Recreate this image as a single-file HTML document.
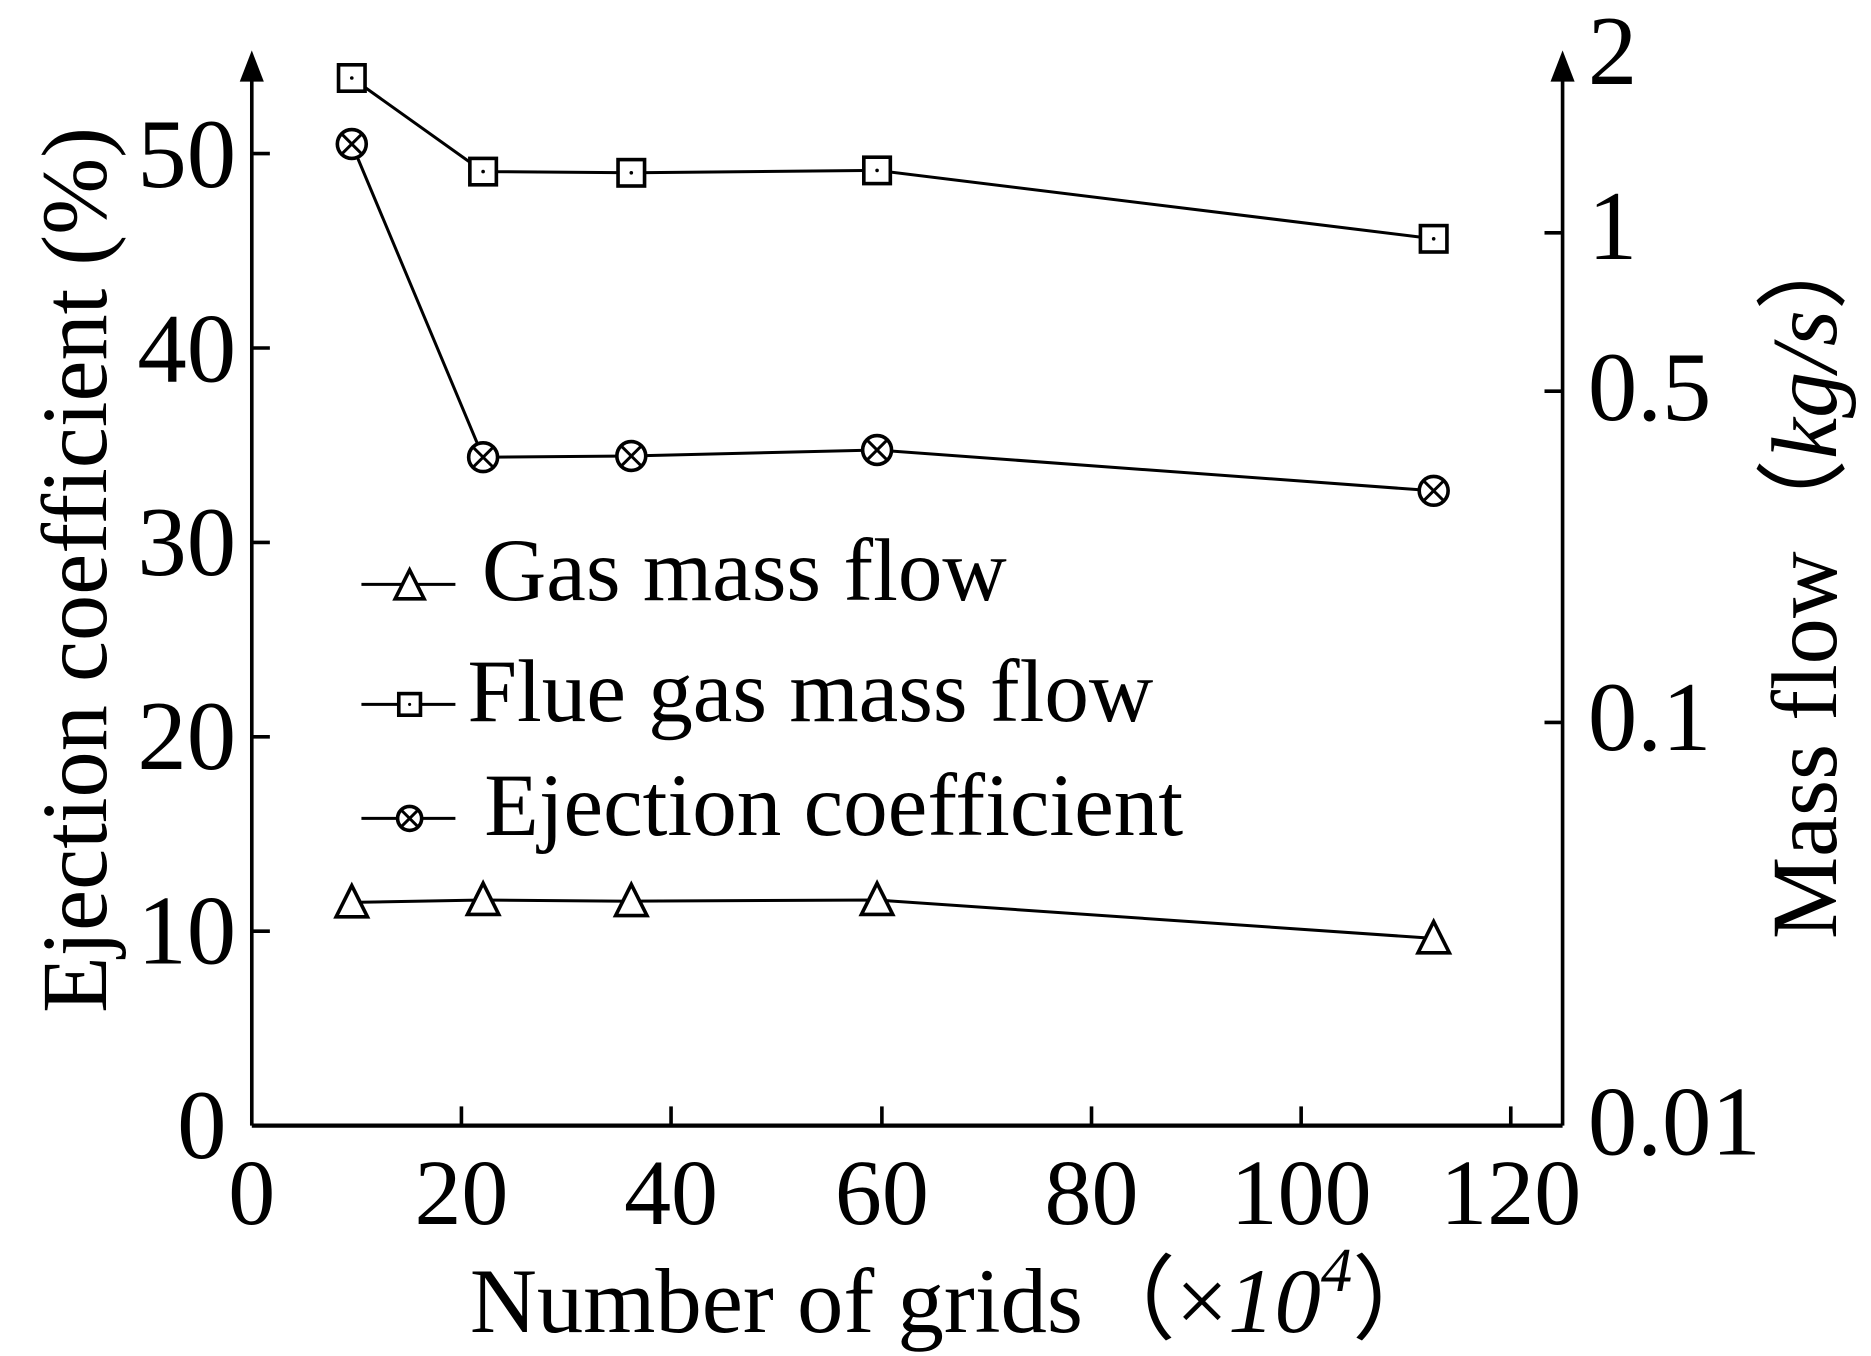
<!DOCTYPE html>
<html><head><meta charset="utf-8"><style>html,body{margin:0;padding:0;background:#fff}svg{display:block}</style></head>
<body>
<svg width="1871" height="1356" viewBox="0 0 1553 1130" preserveAspectRatio="none" xmlns="http://www.w3.org/2000/svg" font-family="Liberation Serif, serif">
<g stroke="#000" fill="none" stroke-width="3">
<line x1="209" y1="60" x2="209" y2="938"/>
<line x1="1297" y1="60" x2="1297" y2="938"/>
<line x1="209" y1="938" x2="1297" y2="938" stroke-width="3.5"/>
<line x1="209" y1="776" x2="224" y2="776"/><line x1="209" y1="614" x2="224" y2="614"/>
<line x1="209" y1="452" x2="224" y2="452"/><line x1="209" y1="290" x2="224" y2="290"/>
<line x1="209" y1="128" x2="224" y2="128"/>
<line x1="1282" y1="194" x2="1297" y2="194"/>
<line x1="1282" y1="326" x2="1297" y2="326"/><line x1="1282" y1="602" x2="1297" y2="602"/>
<line x1="383" y1="938" x2="383" y2="922"/><line x1="557" y1="938" x2="557" y2="922"/>
<line x1="732" y1="938" x2="732" y2="922"/><line x1="906" y1="938" x2="906" y2="922"/>
<line x1="1080" y1="938" x2="1080" y2="922"/><line x1="1254" y1="938" x2="1254" y2="922"/>
</g>
<polygon points="209,42 199,68 219,68" fill="#000"/>
<polygon points="1297,42 1287,68 1307,68" fill="#000"/>
<g stroke="#000" fill="none" stroke-width="2.5">
<polyline points="292,65 401,143 524,144 728,142 1190,199"/>
<polyline points="292,120 401,381 524,380 728,375 1190,409"/>
<polyline points="292,752 401,750 524,751 728,750 1190,782"/>
<line x1="300" y1="487" x2="378" y2="487"/>
<line x1="300" y1="587" x2="378" y2="587"/>
<line x1="300" y1="682" x2="378" y2="682"/>
</g>
<g stroke="#000" fill="#fff" stroke-width="3">
<rect x="281" y="54" width="22" height="22"/><rect x="390" y="132" width="22" height="22"/>
<rect x="513" y="133" width="22" height="22"/><rect x="717" y="131" width="22" height="22"/>
<rect x="1179" y="188" width="22" height="22"/><rect x="331" y="578" width="18" height="18"/>
</g>
<g fill="#000">
<circle cx="292" cy="65" r="1.5"/><circle cx="401" cy="143" r="1.5"/><circle cx="524" cy="144" r="1.5"/><circle cx="728" cy="142" r="1.5"/><circle cx="1190" cy="199" r="1.5"/><circle cx="340" cy="587" r="1.3"/>
</g>
<g stroke="#000" fill="#fff" stroke-width="3">
<path d="M292,738 l-13,26 h26z M401,736 l-13,26 h26z M524,737 l-13,26 h26z M728,736 l-13,26 h26z M1190,768 l-13,26 h26z M340,475 l-12,24 h24z"/>
</g>
<g stroke="#000" fill="#fff" stroke-width="3">
<circle cx="292" cy="120" r="12"/><circle cx="401" cy="381" r="12"/><circle cx="524" cy="380" r="12"/><circle cx="728" cy="375" r="12"/><circle cx="1190" cy="409" r="12"/><circle cx="340" cy="682" r="10"/>
</g>
<g stroke="#000" stroke-width="2.5">
<path d="M283,111 l18,18 M301,111 l-18,18 M392,372 l18,18 M410,372 l-18,18 M515,371 l18,18 M533,371 l-18,18 M719,366 l18,18 M737,366 l-18,18 M1181,400 l18,18 M1199,400 l-18,18 M333,675 l14,14 M347,675 l-14,14"/>
</g>
<g font-size="82" fill="#000">
<text x="188" y="965" text-anchor="end">0</text>
<text x="196" y="803" text-anchor="end">10</text>
<text x="196" y="641" text-anchor="end">20</text>
<text x="196" y="479" text-anchor="end">30</text>
<text x="196" y="318" text-anchor="end">40</text>
<text x="196" y="156" text-anchor="end">50</text>
<text x="1318" y="70">2</text>
<text x="1318" y="216">1</text>
<text x="1318" y="350">0.5</text>
<text x="1318" y="625">0.1</text>
<text x="1318" y="962">0.01</text>
</g>
<g font-size="78" fill="#000" text-anchor="middle">
<text x="209" y="1020">0</text><text x="383" y="1020">20</text><text x="557" y="1020">40</text>
<text x="732" y="1020">60</text><text x="906" y="1020">80</text><text x="1080" y="1020">100</text><text x="1254" y="1020">120</text>
</g>
<g font-size="74" fill="#000">
<text x="400" y="500">Gas mass flow</text>
<text x="388" y="601">Flue gas mass flow</text>
<text x="402" y="696">Ejection coefficient</text>
</g>
<g font-size="77" fill="#000">
<text x="390" y="1110">Number of grids（<tspan>×</tspan><tspan font-style="italic">10</tspan><tspan font-style="italic" font-size="52" dy="-34">4</tspan><tspan dy="34">）</tspan></text>
<text transform="translate(88,475) rotate(-90)" text-anchor="middle">Ejection coefficient (%)</text>
<text transform="translate(1524,482) rotate(-90)" text-anchor="middle">Mass flow（<tspan font-style="italic">kg/s</tspan>）</text>
</g>
</svg>
</body></html>
